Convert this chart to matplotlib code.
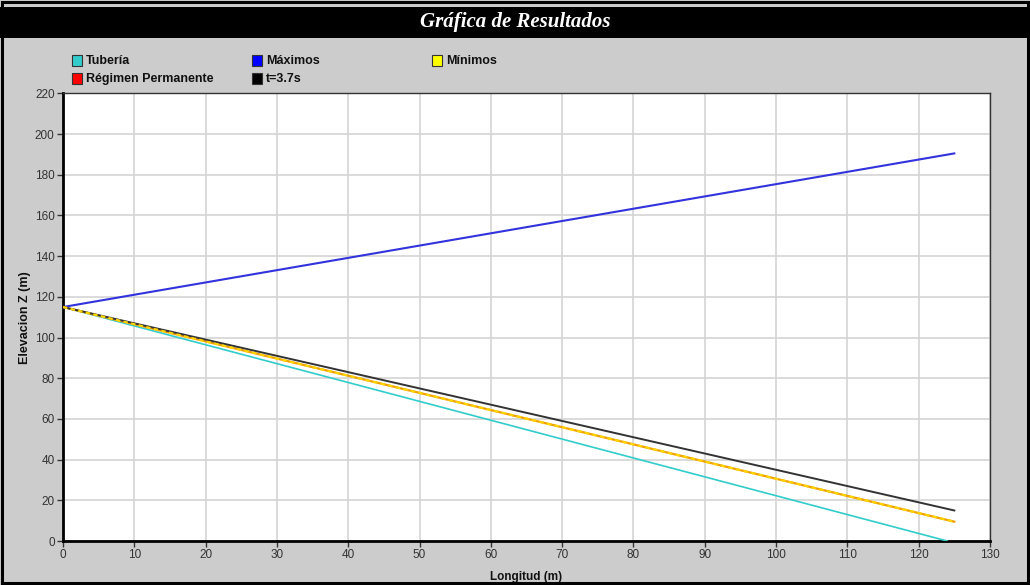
import matplotlib
matplotlib.use("Agg")
import matplotlib.pyplot as plt
from matplotlib.patches import Rectangle

# Profile data: longitude (m) vs elevation Z (m)
x_tuberia = [0, 124]
z_tuberia = [115, 0]

x_maximos = [0, 125]
z_maximos = [115, 190.5]

x_minimos = [0, 125]
z_minimos = [115, 9.5]

x_permanente = [0, 125]
z_permanente = [115, 9.5]

x_t37 = [0, 125]
z_t37 = [115, 15]

legend_labels = ["Tubería", "Máximos", "Mínimos", "Régimen Permanente", "t=3.7s"]
legend_colors = ["#33cccc", "#0000ff", "#ffff00", "#ff0000", "#000000"]

xticks = list(range(0, 131, 10))
yticks = list(range(0, 221, 20))

BG = "#cccccc"
plt.rcParams["font.family"] = ["Liberation Sans", "DejaVu Sans"]

fig = plt.figure(figsize=(10.30, 5.85), dpi=100, facecolor=BG)

# outer frame and title bar
fig.patches.append(Rectangle((0.002, 0.003), 0.996, 0.994, transform=fig.transFigure,
                             fill=False, edgecolor="black", linewidth=2.2, zorder=0))
fig.patches.append(Rectangle((0.0, 1 - 38 / 585), 1.0, 31 / 585, transform=fig.transFigure,
                             facecolor="black", edgecolor="none", zorder=1))
fig.text(0.5, 1 - 22 / 585, "Gráfica de Resultados", color="white", ha="center", va="center",
         fontsize=15, fontstyle="italic", fontweight="bold", family=["Liberation Serif", "DejaVu Serif"])

# legend swatches and labels
leg_pos = [(72, 61), (252, 61), (432, 61), (72, 79), (252, 79)]
for (px, py), lab, col in zip(leg_pos, legend_labels, legend_colors):
    fig.patches.append(Rectangle((px / 1030, 1 - (py + 5) / 585), 10 / 1030, 11 / 585,
                                 transform=fig.transFigure, facecolor=col,
                                 edgecolor="#333333", linewidth=0.8, zorder=2))
    fig.text((px + 14) / 1030, 1 - py / 585, lab, ha="left", va="center",
             fontsize=9, fontweight="bold", color="#111111")

ax = fig.add_axes([63 / 1030, 1 - 541 / 585, (990 - 63) / 1030, (541 - 93.4) / 585])
ax.set_facecolor("white")

ax.plot(x_tuberia, z_tuberia, color="#33cccc", lw=1.2, zorder=3)
ax.plot(x_maximos, z_maximos, color="#3333dd", lw=1.5, zorder=3)
ax.plot(x_permanente, z_permanente, color="#f0a000", lw=1.6, zorder=3)
ax.plot(x_minimos, z_minimos, color="#ffd400", lw=1.6, ls=(0, (2, 1.5)), zorder=4)
ax.plot(x_t37, z_t37, color="#333333", lw=1.4, zorder=3)

ax.set_xlim(0, 130)
ax.set_ylim(0, 220)
ax.set_xticks(xticks)
ax.set_yticks(yticks)
ax.grid(True, color="#d4d4d4", lw=1.2)
ax.set_axisbelow(True)

for side in ["left", "bottom"]:
    ax.spines[side].set_linewidth(2.0)
    ax.spines[side].set_color("black")
for side in ["top", "right"]:
    ax.spines[side].set_linewidth(1.0)
    ax.spines[side].set_color("#333333")

ax.tick_params(direction="out", length=4, width=1, color="#333333",
               labelsize=8.5, labelcolor="#333333", pad=2)

ax.set_xlabel("Longitud (m)", fontsize=8.5, fontweight="bold", color="#111111", labelpad=7)
ax.set_ylabel("Elevacion Z (m)", fontsize=9, fontweight="bold", color="#111111", labelpad=3)

fig.savefig("out.png", dpi=100, facecolor=BG)
